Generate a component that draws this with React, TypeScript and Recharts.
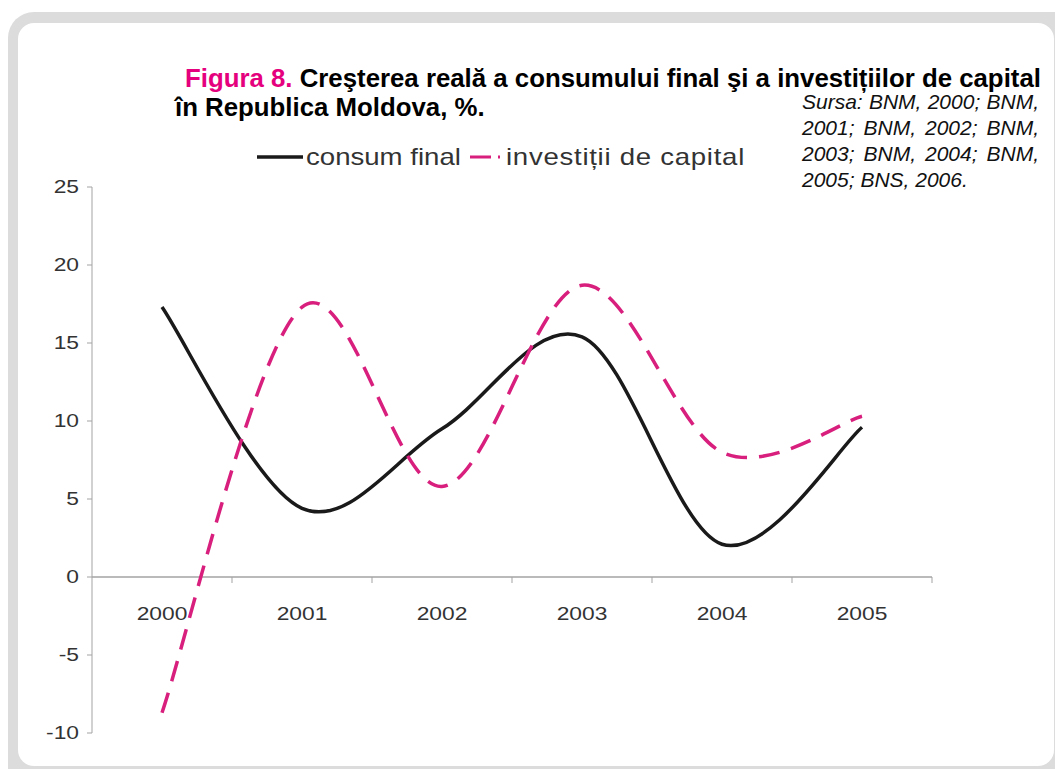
import { Line, LineChart, ReferenceLine, XAxis, YAxis } from "recharts"

const YEARS = ["2000", "2001", "2002", "2003", "2004", "2005"]
const CONSUM_FINAL = [17.3, 4.4, 9.5, 15.4, 2.1, 9.6]
const INVESTITII = [-8.7, 17.3, 5.8, 18.7, 8.0, 10.3]
const Y_TICKS = [-10, -5, 0, 5, 10, 15, 20, 25]

const SERIES_NAMES = ["consum final", "investiții de capital"]
const SOURCE_LINES = ["Sursa: BNM, 2000; BNM,", "2001; BNM, 2002; BNM,", "2003; BNM, 2004; BNM,", "2005; BNS, 2006."]

const data = YEARS.map((year, i) => ({
  year,
  consum: CONSUM_FINAL[i],
  investitii: INVESTITII[i],
}))

const W = 1055
const H = 769
const PLOT_LEFT = 92
const PLOT_RIGHT = 932
const PLOT_TOP = 187
const PLOT_BOTTOM = 733
const X_AXIS_H = 20
const BAND = (PLOT_RIGHT - PLOT_LEFT) / YEARS.length
const Y_MIN = Y_TICKS[0]
const Y_MAX = Y_TICKS[Y_TICKS.length - 1]
const ZERO_Y = PLOT_TOP + ((PLOT_BOTTOM - PLOT_TOP) * Y_MAX) / (Y_MAX - Y_MIN)

const BLACK = "#1a1a1a"
const MAGENTA = "#d81f7d"
const AXIS = "#a3a3a3"
const TEXT = "#333"
const STRETCH = 1.2 // the original chart image is stretched sideways
const FONT = "'Liberation Sans', Arial, sans-serif"

// Excel-like smoothing (Catmull-Rom through the points)
const excelSmooth = (context: any) => {
  let xs: number[] = []
  let ys: number[] = []
  return {
    areaStart() {},
    areaEnd() {},
    lineStart() {
      xs = []
      ys = []
    },
    point(x: number, y: number) {
      xs.push(+x)
      ys.push(+y)
    },
    lineEnd() {
      const n = xs.length
      if (!n) return
      context.moveTo(xs[0], ys[0])
      for (let i = 0; i < n - 1; i++) {
        const p = Math.max(i - 1, 0)
        const q = Math.min(i + 2, n - 1)
        context.bezierCurveTo(
          xs[i] + (xs[i + 1] - xs[p]) / 6,
          ys[i] + (ys[i + 1] - ys[p]) / 6,
          xs[i + 1] - (xs[q] - xs[i]) / 6,
          ys[i + 1] - (ys[q] - ys[i]) / 6,
          xs[i + 1],
          ys[i + 1]
        )
      }
    },
  }
}

function YTick({ x, y, payload }: any) {
  return (
    <g transform={`translate(${x - 6},${y})`}>
      <text transform={`scale(${STRETCH},1)`} textAnchor="end" dy={6} fontSize={19} fill={TEXT}>
        {payload.value}
      </text>
    </g>
  )
}

// labels sit under the zero line, tick marks at the band edges
function XTick({ x, payload }: any) {
  return (
    <g>
      <line x1={x + BAND / 2} x2={x + BAND / 2} y1={ZERO_Y} y2={ZERO_Y + 6} stroke={AXIS} />
      <g transform={`translate(${x},${ZERO_Y + 43})`}>
        <text transform={`scale(${STRETCH},1)`} textAnchor="middle" fontSize={19} fill={TEXT}>
          {payload.value}
        </text>
      </g>
    </g>
  )
}

function ChartLegend() {
  return (
    <svg width={520} height={34} style={{ position: "absolute", left: 257, top: 140, fontFamily: FONT }}>
      <line x1={0} x2={46} y1={17} y2={17} stroke={BLACK} strokeWidth={3.5} />
      <g transform="translate(49,25)">
        <text transform={`scale(${STRETCH},1)`} fontSize={23} fill={TEXT}>
          {SERIES_NAMES[0]}
        </text>
      </g>
      <line x1={213} x2={243} y1={17} y2={17} stroke={MAGENTA} strokeWidth={3} strokeDasharray="21 7 2 20" />
      <g transform="translate(249,25)">
        <text transform={`scale(${STRETCH},1)`} fontSize={23} fill={TEXT} letterSpacing={0.6}>
          {SERIES_NAMES[1]}
        </text>
      </g>
    </svg>
  )
}

const headingStyle = {
  position: "absolute" as const,
  fontSize: 25.8,
  lineHeight: "29px",
  fontWeight: "bold" as const,
  color: "#000",
  whiteSpace: "nowrap" as const,
}

export default function App() {
  return (
    <div
      style={{
        position: "absolute",
        left: 0,
        top: 0,
        width: W,
        height: H,
        overflow: "hidden",
        background: "#fff",
        fontFamily: FONT,
      }}
    >
      <div style={{ position: "absolute", left: 8, top: 12, width: 1100, height: 800, background: "#dcdcdc", borderRadius: 26 }} />
      <div style={{ position: "absolute", left: 18, top: 23, width: 1036, height: 743, background: "#fff", borderRadius: 16 }} />

      <div style={{ ...headingStyle, left: 185, top: 64 }}>
        <span style={{ color: "#e5007d" }}>Figura 8.</span> Creşterea reală a consumului final şi a investițiilor de capital
      </div>
      <div style={{ ...headingStyle, left: 175, top: 93 }}>în Republica Moldova, %.</div>

      <div
        style={{
          position: "absolute",
          left: 802,
          top: 89,
          width: 237,
          fontSize: 21,
          lineHeight: "26px",
          fontStyle: "italic",
          color: "#111",
        }}
      >
        {SOURCE_LINES.map((t, i) => (
          <div key={t} style={{ whiteSpace: "nowrap", textAlign: "justify", textAlignLast: i < SOURCE_LINES.length - 1 ? "justify" : "left" }}>
            {t}
          </div>
        ))}
      </div>

      <ChartLegend />

      <div style={{ position: "absolute", left: 0, top: 0 }}>
        <LineChart
          width={W}
          height={H}
          data={data}
          margin={{ top: PLOT_TOP, right: W - PLOT_RIGHT, bottom: H - PLOT_BOTTOM - X_AXIS_H, left: 0 }}
          style={{ fontFamily: FONT }}
        >
          <XAxis
            dataKey="year"
            height={X_AXIS_H}
            axisLine={false}
            tickLine={false}
            padding={{ left: BAND / 2, right: BAND / 2 }}
            interval={0}
            tick={<XTick />}
          />
          <YAxis
            width={PLOT_LEFT}
            domain={[Y_MIN, Y_MAX]}
            ticks={Y_TICKS}
            interval={0}
            axisLine={{ stroke: AXIS }}
            tickLine={{ stroke: AXIS }}
            tickSize={5}
            tick={<YTick />}
          />
          <ReferenceLine y={0} stroke={AXIS} strokeWidth={1.5} />
          <Line
            dataKey="consum"
            name={SERIES_NAMES[0]}
            type={excelSmooth as any}
            stroke={BLACK}
            strokeWidth={3.5}
            dot={false}
            activeDot={false}
            isAnimationActive={false}
          />
          <Line
            dataKey="investitii"
            name={SERIES_NAMES[1]}
            type={excelSmooth as any}
            stroke={MAGENTA}
            strokeWidth={3.5}
            strokeDasharray="21 12"
            dot={false}
            activeDot={false}
            isAnimationActive={false}
          />
        </LineChart>
      </div>
    </div>
  )
}
